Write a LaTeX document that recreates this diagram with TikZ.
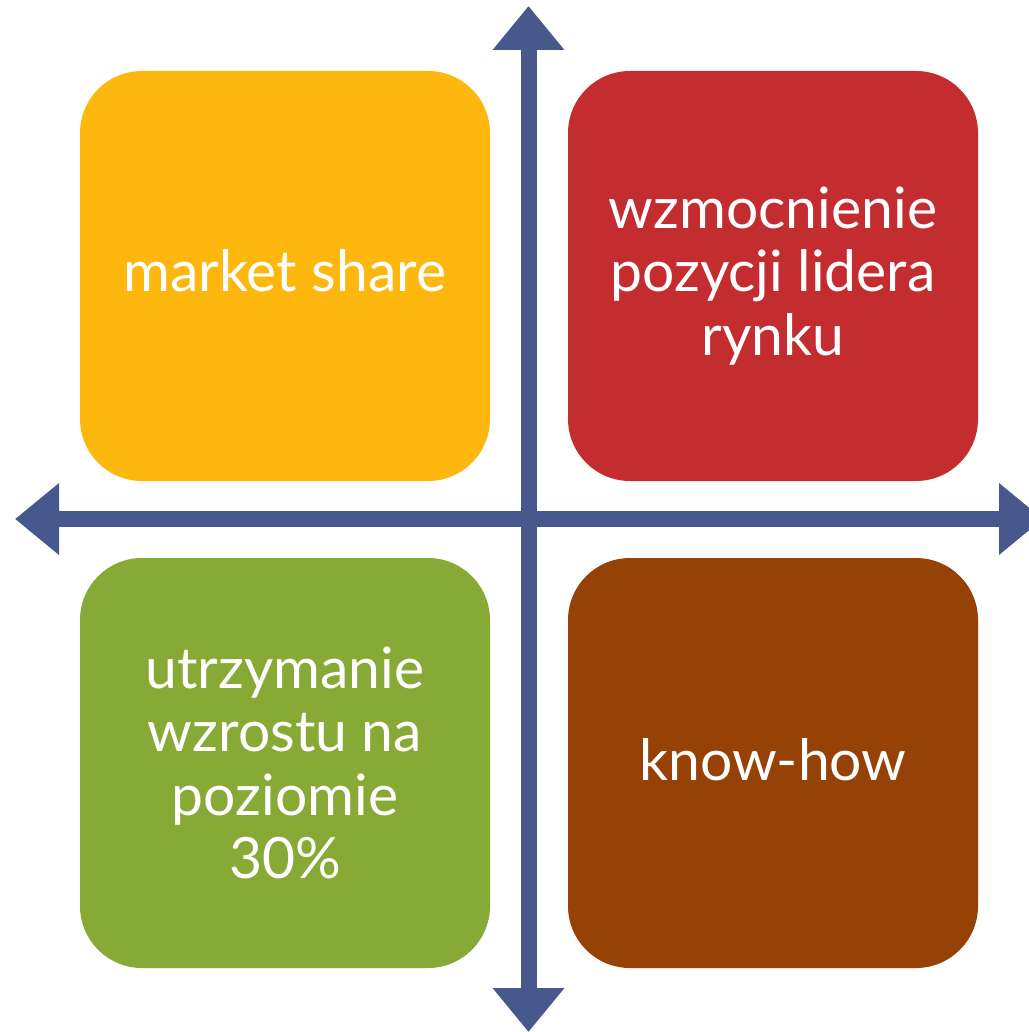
\documentclass[tikz,border=0pt]{standalone}
\usepackage{fontspec}
\setmainfont{Lato}
\usetikzlibrary{arrows.meta}
\definecolor{cyellow}{RGB}{253,183,14}
\definecolor{cred}{RGB}{195,45,48}
\definecolor{cgreen}{RGB}{135,170,54}
\definecolor{cbrown}{RGB}{150,65,5}
\definecolor{caxis}{RGB}{70,88,140}
\tikzset{
  quad/.style={rounded corners=62pt, minimum width=410pt, minimum height=410pt,
    inner sep=0pt, text=white, align=center,
    font=\fontsize{57}{63.5}\selectfont},
  axis/.style={line width=16pt, color=caxis,
    {Triangle[length=44pt,width=69pt]}-{Triangle[length=44pt,width=69pt]}}
}
\begin{document}
\begin{tikzpicture}[x=1pt,y=-1pt]
\useasboundingbox (0,0) rectangle (1028,1032);
\node[quad, fill=cyellow] (ms) at (285,276) {};
\node[text=white, font=\fontsize{57}{63.5}\selectfont] (mst) at (285,271) {market share};
\node[quad, fill=cred] (wp) at (773,276) {wzmocnienie\\pozycji lidera\\rynku};
\node[quad, fill=cgreen] (uw) at (285,763) {utrzymanie\\wzrostu na\\poziomie\\30\%};
\node[quad, fill=cbrown] (kh) at (773,763) {};
\node[text=white, font=\fontsize{57}{63.5}\selectfont] (kht) at (773,760) {know-how};
\coordinate (top) at (528.5,6);
\coordinate (bottom) at (528.5,1032);
\coordinate (left) at (15,519);
\coordinate (right) at (1043,519);
\draw[axis] (left) -- (right);
\draw[axis] (top) -- (bottom);
\end{tikzpicture}
\end{document}
